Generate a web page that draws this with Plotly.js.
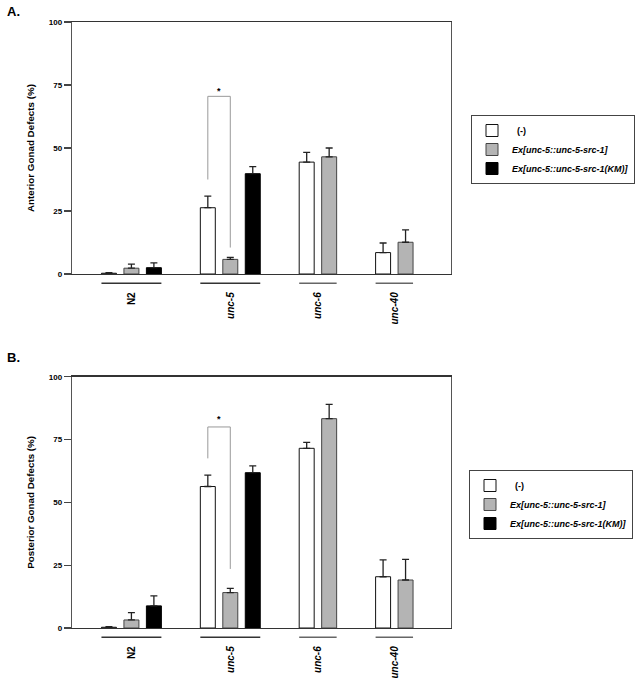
<!DOCTYPE html>
<html><head><meta charset="utf-8">
<script src="https://cdn.plot.ly/plotly-3.0.1.min.js"></script>
<style>html,body{margin:0;padding:0;background:#fff}</style>
</head><body><div id="chart" style="width:635px;height:679px"></div>
<script>
// ---- data ----
const groups = ['N2', 'unc-5', 'unc-6', 'unc-40'];
const groupLabels = ['N2', '<i>unc-5</i>', '<i>unc-6</i>', '<i>unc-40</i>'];
const seriesNames = ['\u00a0\u00a0(-)', '<i>Ex[unc-5::unc-5-src-1]</i>', '<i>Ex[unc-5::unc-5-src-1(KM)]</i>'];

const anteriorNone = [0.3, 26.3, 44.4, 8.5];
const anteriorNoneErr = [0.2, 4.6, 3.9, 3.8];
const anteriorSrc = [2.3, 5.8, 46.5, 12.6];
const anteriorSrcErr = [1.6, 0.8, 3.5, 4.9];
const anteriorKM = [2.5, 39.8, null, null];
const anteriorKMErr = [1.9, 2.8, null, null];

const posteriorNone = [0.3, 56.3, 71.5, 20.4];
const posteriorNoneErr = [0.2, 4.5, 2.4, 6.7];
const posteriorSrc = [3.2, 14.1, 83.3, 19.1];
const posteriorSrcErr = [2.9, 1.7, 5.7, 8.2];
const posteriorKM = [8.8, 61.8, null, null];
const posteriorKMErr = [4.0, 2.7, null, null];

const yTicks = [0, 25, 50, 75, 100];
// significance brackets: group, series indices, bracket top and leg ends
const sigAnterior = {group: 'unc-5', from: 0, to: 1, top: 70.5, fromEnd: 37.5, toEnd: 10.5, star: 72.5};
const sigPosterior = {group: 'unc-5', from: 0, to: 1, top: 80, fromEnd: 67.5, toEnd: 23.5, star: 83};

// ---- layout helpers ----
const W = 635, H = 679;
const M = {l: 72, r: 183.5, t: 22, b: 51, autoexpand: false};
const PW = W - M.l - M.r, PH = H - M.t - M.b;
const px2x = px => (px - M.l) / PW;
const py2y = py => (H - M.b - py) / PH;

const FONT = 'Liberation Sans, Arial, Helvetica, sans-serif';
const fills = ['#ffffff', '#b4b4b4', '#000000'];
const outlines = ['#111111', '#444444', '#000000'];
const GAP = 1.4, BARW = 0.667;

function slotPositions(seriesList) {
  let cursor = 0;
  const pos = seriesList.map(() => []);
  const spans = [];
  groups.forEach((g, gi) => {
    let first = null, last = null;
    seriesList.forEach((s, si) => {
      if (s[gi] != null) {
        pos[si][gi] = cursor;
        if (first === null) first = cursor;
        last = cursor;
        cursor += 1;
      } else pos[si][gi] = null;
    });
    spans.push([first, last]);
    cursor += GAP;
  });
  return {pos, spans};
}

const traces = [], shapes = [], annotations = [];

function panel(vals, errs, xa, ya, legendId, sig) {
  const {pos, spans} = slotPositions(vals);
  vals.forEach((v, si) => {
    const xs = [], ys = [], es = [], em = [];
    v.forEach((val, gi) => {
      if (val != null) { xs.push(pos[si][gi]); ys.push(val); es.push(errs[si][gi]); em.push(0); }
    });
    traces.push({
      type: 'bar', x: xs, y: ys, width: BARW,
      name: seriesNames[si], legend: legendId, showlegend: true,
      xaxis: xa, yaxis: ya,
      marker: {color: fills[si], line: {color: outlines[si], width: 1}},
      error_y: {type: 'data', array: es, arrayminus: em, symmetric: false,
                color: '#222', thickness: 1.3, width: 3.5},
      hoverinfo: 'x+y'
    });
  });
  const yref = (ya === 'y' ? 'y' : 'y2');
  spans.forEach((sp, gi) => {
    shapes.push({type: 'line', xref: xa, yref: yref + ' domain',
      x0: sp[0] - BARW / 2, x1: sp[1] + BARW / 2, y0: -0.037, y1: -0.037,
      line: {color: (gi < 2 ? '#333' : '#666'), width: 1.4}});
  });
  const gi = groups.indexOf(sig.group);
  const xf = pos[sig.from][gi], xt = pos[sig.to][gi];
  shapes.push({type: 'path', xref: xa, yref: ya,
    path: `M ${xf},${sig.fromEnd} L ${xf},${sig.top} L ${xt},${sig.top} L ${xt},${sig.toEnd}`,
    line: {color: '#999', width: 1}});
  annotations.push({xref: xa, yref: ya, x: (xf + xt) / 2, y: sig.star, text: '*',
    showarrow: false, font: {size: 9, family: FONT, weight: 'bold', color: '#000'}});
  return spans;
}

const spansA = panel([anteriorNone, anteriorSrc, anteriorKM],
                     [anteriorNoneErr, anteriorSrcErr, anteriorKMErr], 'x', 'y', 'legend', sigAnterior);
const spansB = panel([posteriorNone, posteriorSrc, posteriorKM],
                     [posteriorNoneErr, posteriorSrcErr, posteriorKMErr], 'x2', 'y2', 'legend2', sigPosterior);

const centers = spansA.map(s => (s[0] + s[1]) / 2);
const xRange = [(M.l - 109) / 22.5, (M.l + PW - 109) / 22.5];

function xAxis(anchor) {
  return {anchor: anchor, range: xRange, tickvals: centers, ticktext: groupLabels,
    tickangle: -90, ticks: 'outside', ticklen: 13, tickcolor: 'rgba(0,0,0,0)',
    tickfont: {size: 10, family: FONT, weight: 'bold', color: '#000'},
    showline: true, linecolor: '#333', linewidth: 1.3, mirror: true,
    showgrid: false, zeroline: false, fixedrange: true, automargin: false};
}
function yAxis(domain, title) {
  return {domain: domain, range: [0, 100], tickvals: yTicks, ticks: 'outside', ticklen: 7,
    tickcolor: '#444', tickwidth: 1.2,
    tickfont: {size: 8, family: FONT, weight: 'bold', color: '#000'},
    showline: true, linecolor: '#555', linewidth: 1.3, mirror: true,
    showgrid: false, zeroline: false, fixedrange: true, automargin: false,
    title: {text: title, standoff: 12, font: {size: 9.8, family: FONT, weight: 'bold', color: '#000'}}};
}

annotations.push({xref: 'paper', yref: 'paper', x: px2x(5), y: py2y(12), xanchor: 'left', yanchor: 'middle',
  text: 'A.', showarrow: false, font: {size: 13, family: FONT, weight: 'bold', color: '#000'}});
annotations.push({xref: 'paper', yref: 'paper', x: px2x(5), y: py2y(357), xanchor: 'left', yanchor: 'middle',
  text: 'B.', showarrow: false, font: {size: 13, family: FONT, weight: 'bold', color: '#000'}});

const legendStyle = (pxLeft, pyTop) => ({x: pxLeft / W, y: 1 - pyTop / H, xanchor: 'left', yanchor: 'top',
  xref: 'container', yref: 'container',
  bgcolor: '#fff', bordercolor: '#444', borderwidth: 1, traceorder: 'normal',
  font: {size: 9, family: FONT, weight: 'bold', color: '#000'}});

const layout = {
  width: W, height: H, margin: M, paper_bgcolor: '#fff', plot_bgcolor: '#fff',
  barmode: 'overlay', showlegend: true,
  xaxis: xAxis('y'), yaxis: yAxis([py2y(274), 1], 'Anterior Gonad Defects (%)'),
  xaxis2: xAxis('y2'), yaxis2: yAxis([0, py2y(376.7)], 'Posterior Gonad Defects (%)'),
  legend: legendStyle(471, 115),
  legend2: legendStyle(469, 470),
  shapes: shapes, annotations: annotations
};

Plotly.newPlot('chart', traces, layout, {displayModeBar: false, staticPlot: true});
</script></body></html>
